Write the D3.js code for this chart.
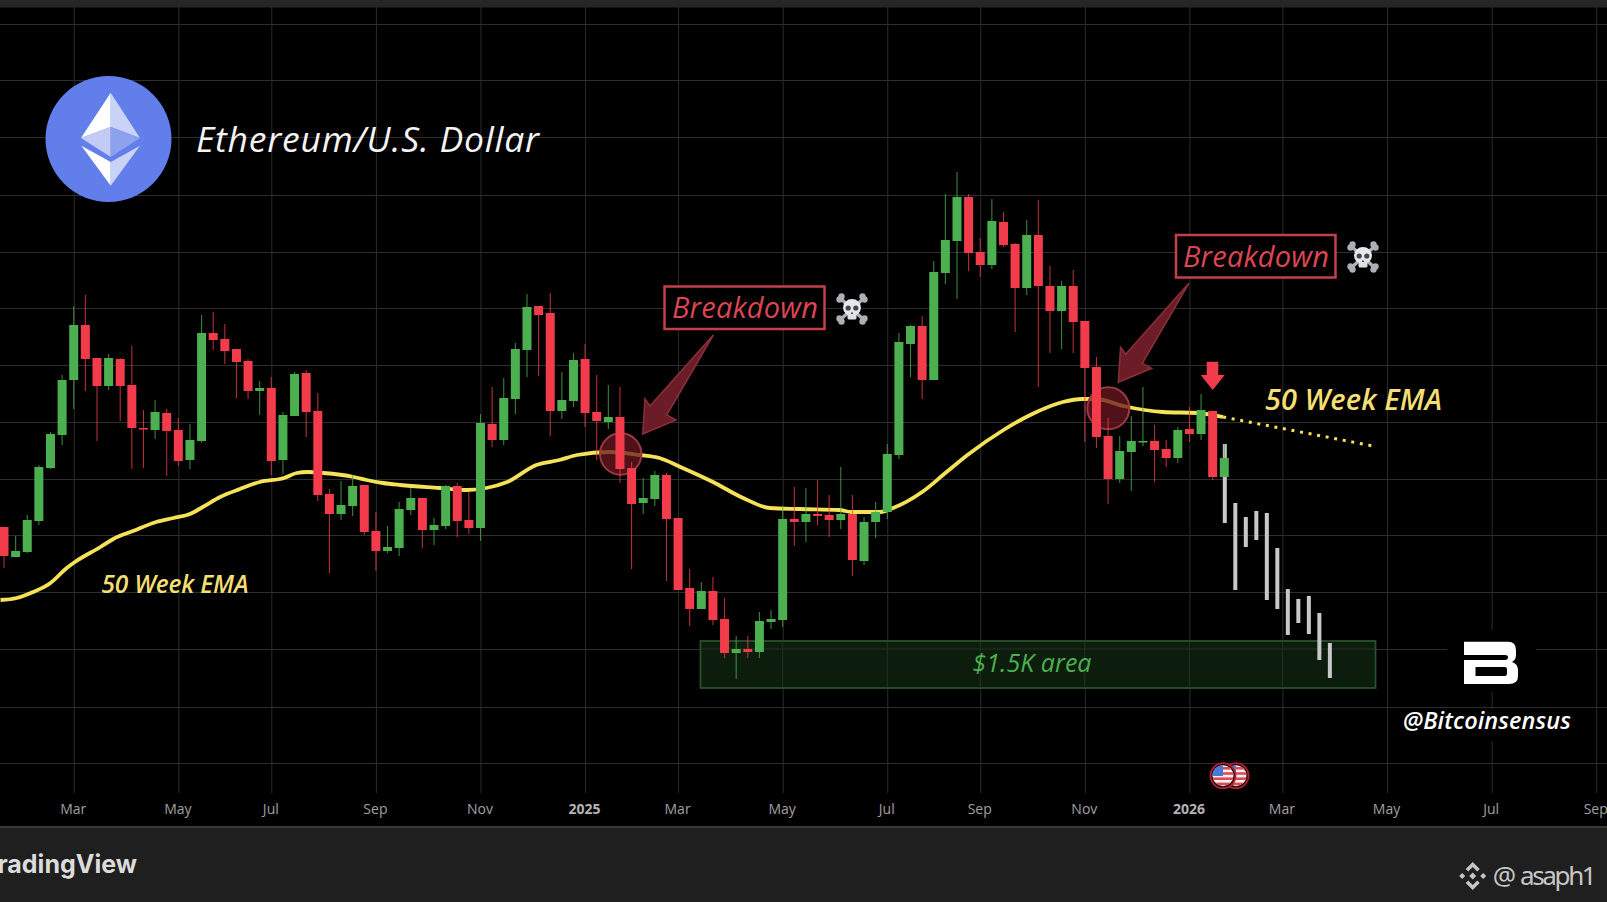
<!DOCTYPE html>
<html><head><meta charset="utf-8">
<script src="https://cdn.jsdelivr.net/npm/d3@7/dist/d3.min.js"></script>
<style>
html,body{margin:0;padding:0;background:#000;overflow:hidden}
svg{display:block}
text{font-family:"Open Sans","Noto Sans",sans-serif}
</style></head><body><svg id="c" width="1607" height="902"></svg>
<script>
// Chart has no price scale, so values are chart levels (height above the axis band).
const highs=[280,271,292,342,375,432,501,512,449,453,449,461,397,407,398,389,383,492,495,483,458,448,426,430,395,435,437,414,318,326,332,322,295,281,305,319,309,289,322,324,315,393,420,429,464,513,501,514,435,454,463,432,422,420,345,329,336,334,289,238,225,230,209,171,171,195,197,301,320,319,327,312,340,312,290,305,363,474,482,491,546,613,635,613,569,608,595,564,587,607,541,526,537,486,450,389,371,391,420,382,367,380,400,413,396,363];
const opens=[280,250,255,286,339,372,427,482,449,421,448,422,379,377,394,377,347,366,474,468,458,446,416,419,347,391,434,396,313,293,301,322,276,256,259,297,309,277,281,321,287,279,383,367,408,457,501,494,396,406,448,395,385,390,339,304,308,332,289,219,198,216,188,154,158,155,185,187,288,285,293,292,287,293,246,285,295,352,463,481,427,534,566,610,555,542,585,563,519,572,521,496,521,486,440,371,328,355,365,366,358,349,378,373,396,330];
const closes=[251,256,287,340,373,427,482,448,421,449,421,379,378,395,376,346,367,474,467,456,445,416,419,346,392,433,395,312,293,302,321,275,256,260,298,309,277,282,321,286,279,384,367,409,458,500,492,396,407,447,394,386,390,338,303,309,332,288,217,198,216,187,154,158,155,186,188,288,285,293,291,287,293,247,285,295,353,465,481,427,535,567,610,554,542,586,562,519,572,521,496,521,485,439,370,328,356,366,366,357,349,377,373,397,330,349];
const lows=[239,250,254,282,338,362,398,416,366,417,386,338,339,368,331,341,338,364,457,443,409,408,392,332,333,391,370,306,234,287,291,272,236,254,251,292,259,262,278,270,273,266,360,362,393,430,431,371,388,400,380,347,378,324,238,293,301,226,217,181,198,182,149,128,149,149,178,180,261,265,282,270,278,231,242,269,288,348,430,408,427,523,508,536,530,538,560,475,512,420,454,458,454,365,359,303,324,316,361,325,340,344,365,367,327,330];

const emaIndex=[-0.3,1.1,2.5,4,5.4,6.1,8.3,9.4,11.1,13.1,14.6,16,17.1,18.6,20.3,22,24.1,25.2,26.1,27.5,30.1,31.2,32.6,34.1,37.5,39.8,41.5,43.3,45.8,47.8,49.3,52.1,54.7,56.4,58.2,61,63.6,65.9,68.5,71.9,72.9,75.4,76.5,79,81.1,82.9,86,88.3,91.1,92.8,94,96.3,99.7,102.7,104.9];
const emaValue=[207,209,215,224,239,245,260,268,276,285,289,293,300,310,318,325,329,334,335,334,330,327,324,322,319,317,319,325,342,347,352,355,352,349,340,325,309,299,298,297,295,295,299,315,335,352,377,392,405,408,408,401,395,394,390];
const emaForecastIndex=[104.9,117.8];
const emaForecastValue=[390,361];

const projectionHigh=[363,304,290,296,294,259,218,208,211,194,164];
const projectionLow=[284,217,260,267,207,198,172,184,173,147,129];
const projectionStep=0.904, projectionStart=105;

const tickIndex=[6,15,23,32,41,50,58,67,76,84,93,102,110,119,128,137];
const tickLabels=["Mar","May","Jul","Sep","Nov","2025","Mar","May","Jul","Sep","Nov","2026","Mar","May","Jul","Sep"];
const gridLevels=[783,727,670,612,555,499,442,385,328,272,215,158,100,44];
const zoneLevels=[166,119]; // "$1.5K area"

const UP="#4caf50", DOWN="#f23c4c", EMA="#f6e258", LABEL="#f3df74";
const x=d3.scaleLinear().domain([0,105]).range([4,1224.3]);
const y=d3.scaleLinear().domain([0,807]).range([807,0]);
const svg=d3.select("#c");

// panels
svg.append("rect").attr("width",1607).attr("height",902).attr("fill","#000");

// grid
const gy=svg.append("g").call(d3.axisRight(y).tickValues(gridLevels).tickSize(1607).tickFormat(""));
gy.select(".domain").remove();
gy.selectAll("line").attr("stroke","#2e2e2e").attr("stroke-width",1);
const gx=svg.append("g").attr("transform","translate(0,793)")
 .call(d3.axisBottom(x).tickValues(tickIndex).tickSize(-786).tickPadding(11).tickFormat((d,i)=>tickLabels[i]));
gx.select(".domain").remove();
gx.selectAll("line").attr("stroke","#2c2c2c").attr("stroke-width",1);
gx.selectAll("text").attr("x",-1).attr("y",21).attr("dy",0).attr("fill",(d,i)=>/^\d/.test(tickLabels[i])?"#b4b4b4":"#a0a0a0")
  .attr("font-weight",(d,i)=>/^\d/.test(tickLabels[i])?700:500).style("font-size","14px").style("font-family",'"Open Sans",sans-serif');

// gaps behind watermark
svg.append("rect").attr("x",1447).attr("y",630).attr("width",89).attr("height",62).attr("fill","#000");
svg.append("rect").attr("x",1400).attr("y",709).attr("width",174).attr("height",32).attr("fill","#000");

// zone
svg.append("rect").attr("x",700.5).attr("y",y(zoneLevels[0])).attr("width",675).attr("height",y(zoneLevels[1])-y(zoneLevels[0]))
 .attr("fill","#0c1c0d").attr("stroke","#29502c").attr("stroke-width",1.8);
// the grid shows faintly through the zone
svg.append("line").attr("x1",701).attr("x2",1375).attr("y1",y(158)).attr("y2",y(158)).attr("stroke","#203621");
tickIndex.filter(i=>x(i)>701&&x(i)<1375).forEach(i=>svg.append("line").attr("x1",x(i)).attr("x2",x(i)).attr("y1",642).attr("y2",687).attr("stroke","#203621"));
svg.append("text").attr("x",1032).attr("y",672).attr("text-anchor","middle").attr("fill",UP).attr("font-style","italic")
 .attr("font-size",25).attr("textLength",119).text("$1.5K area");

// EMA
const line=d3.line().x(d=>x(d[0])).y(d=>y(d[1])).curve(d3.curveMonotoneX);
svg.append("path").attr("d",line(emaIndex.map((d,i)=>[d,emaValue[i]]))).attr("fill","none").attr("stroke",EMA).attr("stroke-width",3.8);
svg.append("path").attr("d",line(emaForecastIndex.map((d,i)=>[d,emaForecastValue[i]]))).attr("fill","none").attr("stroke",EMA).attr("stroke-width",3).attr("stroke-dasharray","3 5.7");

// breakdown circles
[[620.7,454,20.7],[1108.3,408.3,21]].forEach(c=>svg.append("circle").attr("cx",c[0]).attr("cy",c[1]).attr("r",c[2])
 .attr("fill","#6b1620").attr("fill-opacity",.76).attr("stroke","#9c3841").attr("stroke-width",2));

// projected bars
svg.append("g").selectAll("rect").data(projectionHigh).join("rect")
 .attr("x",(d,i)=>x(projectionStart+i*projectionStep)-1.5).attr("width",4)
 .attr("y",d=>y(d)).attr("height",(d,i)=>y(projectionLow[i])-y(d)).attr("fill","#c8c8c8");

// candles
const candles=d3.range(highs.length);
const col=i=>closes[i]>=opens[i]?UP:DOWN;
const g=svg.append("g");
g.selectAll("line").data(candles).join("line")
 .attr("x1",i=>x(i)).attr("x2",i=>x(i)).attr("y1",i=>y(highs[i])).attr("y2",i=>y(lows[i]))
 .attr("stroke",col).attr("stroke-opacity",.75).attr("stroke-width",1.1);
g.selectAll("rect").data(candles).join("rect")
 .attr("x",i=>x(i)-4.5).attr("width",9)
 .attr("y",i=>y(Math.max(opens[i],closes[i])))
 .attr("height",i=>Math.max(1.5,Math.abs(y(opens[i])-y(closes[i])))).attr("fill",col);

// arrows
const arrowShape=[[642.7,434],[645,399],[650,406],[713.3,335],[666.7,415],[676,420]];
[0,1].forEach(k=>svg.append("polygon").attr("points",arrowShape.map(p=>[p[0]+k*475.6,p[1]-k*51.7].join(",")).join(" "))
 .attr("fill","#6c1c27").attr("stroke","#8a2f3a").attr("stroke-width",1.5));
svg.append("polygon").attr("points","1206.7,361.7 1218.3,361.7 1218.3,375 1224.7,375 1212.7,390 1200.7,375 1206.7,375").attr("fill",DOWN);

// breakdown labels
function breakdown(bx,by,w,h,tx,bl,tw){
 svg.append("rect").attr("x",bx).attr("y",by).attr("width",w).attr("height",h).attr("fill","#000").attr("stroke","#c43f4c").attr("stroke-width",2.5);
 svg.append("text").attr("x",tx).attr("y",bl).attr("fill","#dc4653").attr("font-style","italic").attr("font-size",29).attr("textLength",tw).text("Breakdown");
}
breakdown(664.5,286.5,160,42.5,672,318,146);
breakdown(1176,235,159.5,42.5,1183,267,146);

// skulls
function skull(cx,cy){
 const s=svg.append("g").attr("transform",`translate(${cx},${cy})`);
 [[-1,-1],[1,-1],[-1,1],[1,1]].forEach(d=>{
  s.append("line").attr("x1",0).attr("y1",0).attr("x2",d[0]*12).attr("y2",d[1]*11).attr("stroke","#aab0b6").attr("stroke-width",3.5);
  s.append("circle").attr("cx",d[0]*12.5).attr("cy",d[1]*9.5).attr("r",3.2).attr("fill","#aab0b6");
  s.append("circle").attr("cx",d[0]*10.5).attr("cy",d[1]*12.5).attr("r",3.2).attr("fill","#aab0b6");
 });
 s.append("ellipse").attr("cx",0).attr("cy",-1.5).attr("rx",9).attr("ry",8.5).attr("fill","#e6e8ea");
 s.append("rect").attr("x",-4.5).attr("y",4).attr("width",9).attr("height",6.5).attr("rx",1.5).attr("fill","#dfe1e4");
 [-3.8,3.8].forEach(e=>s.append("circle").attr("cx",e).attr("cy",-1).attr("r",2.6).attr("fill","#41464e"));
 s.append("path").attr("d","M0,2.5L-1.2,5H1.2Z").attr("fill","#41464e");
}
skull(852,309);skull(1363,257);

// EMA labels
svg.append("text").attr("x",101.5).attr("y",592.5).attr("fill",LABEL).attr("font-style","italic").attr("font-weight",600).attr("font-size",24.5).attr("textLength",147).text("50 Week EMA");
svg.append("text").attr("x",1265).attr("y",410).attr("fill",LABEL).attr("font-style","italic").attr("font-weight",600).attr("font-size",29).attr("textLength",177).text("50 Week EMA");

// logo
svg.append("circle").attr("cx",108.5).attr("cy",139).attr("r",63).attr("fill","#627eea");
[["110.7,92.7 81,138 110.7,127","#ffffff"],["110.7,92.7 140,138 110.7,127","#c9d3f7"],["81,138 110.7,127 110.7,157","#c1cbf5"],["140,138 110.7,127 110.7,157","#8ea1ef"],
 ["81.4,145.7 110.7,162 110.7,185.7","#ffffff"],["140,145.7 110.7,162 110.7,185.7","#c9d3f7"]]
 .forEach(p=>svg.append("polygon").attr("points",p[0]).attr("fill",p[1]));
svg.append("text").attr("x",196).attr("y",152).attr("fill","#f4f4f4").attr("font-style","italic").attr("font-size",35.5).attr("textLength",343).text("Ethereum/U.S. Dollar");

// watermark
svg.append("path").attr("fill-rule","evenodd").attr("fill","#fff")
 .attr("d","M1464,641.7H1508Q1516,641.7 1516,650V655Q1516,660 1512,662Q1518,664 1518,670V676Q1518,684 1509,684H1464V660H1505Q1508,660 1508,657V657Q1508,655 1505,655H1464ZM1475.5,667V676H1505Q1507,676 1507,673V670Q1507,667 1505,667Z");
svg.append("text").attr("x",1403).attr("y",729).attr("fill","#fff").attr("font-style","italic").attr("font-weight",600).attr("font-size",23.5).attr("textLength",168).text("@Bitcoinsensus");

// flags
const defs=svg.append("defs");
[[1236,0],[1223,1]].forEach((f,k)=>{
 const cp=defs.append("clipPath").attr("id","fl"+k);cp.append("circle").attr("cx",f[0]).attr("cy",775.7).attr("r",10.5);
 const fg=svg.append("g");
 fg.append("circle").attr("cx",f[0]).attr("cy",775.7).attr("r",12.5).attr("fill","#1a0508").attr("stroke","#b3202f").attr("stroke-width",1.8);
 const inner=fg.append("g").attr("clip-path",`url(#fl${k})`);
 inner.append("rect").attr("x",f[0]-11).attr("y",765).attr("width",22).attr("height",22).attr("fill","#f1f1f1");
 d3.range(4).forEach(r=>inner.append("rect").attr("x",f[0]-11).attr("y",767+r*5.2).attr("width",22).attr("height",2.6).attr("fill","#e04a55"));
 inner.append("rect").attr("x",f[0]-11).attr("y",765).attr("width",11).attr("height",11).attr("fill","#4a78d8");
});

// top bar and footer
svg.append("rect").attr("width",1607).attr("height",7.5).attr("fill","#262626");
svg.append("rect").attr("y",826).attr("width",1607).attr("height",76).attr("fill","#1f1f1f");
svg.append("rect").attr("y",826).attr("width",1607).attr("height",2).attr("fill","#383838");
svg.append("text").attr("x",137).attr("y",873).attr("text-anchor","end").attr("fill","#dcdcdc").attr("font-weight",700).attr("font-size",25).style("font-family","Inter,Roboto,sans-serif").text("TradingView");
svg.append("text").attr("x",1492.7).attr("y",885).attr("fill","#c6c6c6").attr("font-size",26).attr("textLength",104).attr("lengthAdjust","spacing").style("font-family","'Noto Sans',sans-serif").style("word-spacing","2px").text("@ asaph1");
const bn=svg.append("g").attr("transform","translate(1472.7,876)").attr("fill","#c6c6c6");
bn.append("path").attr("d","M0,-14L7,-7L4.5,-4.5L0,-9L-4.5,-4.5L-7,-7ZM0,14L7,7L4.5,4.5L0,9L-4.5,4.5L-7,7ZM0,-3.5L3.5,0L0,3.5L-3.5,0ZM-10.5,-3L-7.5,0L-10.5,3L-13.5,0ZM10.5,-3L13.5,0L10.5,3L7.5,0Z");
</script></body></html>
